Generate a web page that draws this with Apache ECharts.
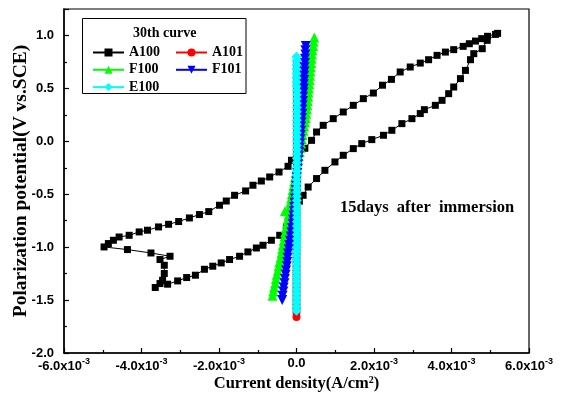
<!DOCTYPE html>
<html>
<head>
<meta charset="utf-8">
<script src="https://cdn.jsdelivr.net/npm/echarts@6/dist/echarts.min.js"></script>
<style>
  html, body { margin: 0; padding: 0; background: #fff; }
  #chart { width: 567px; height: 399px; }
</style>
</head>
<body>
<div id="chart"></div>
<script>
// Current density in units of 1e-3 A/cm^2, potential in V vs. SCE (30th cycle).

// A100: cyclic scan – forward (lower) branch, reverse (upper) branch, closing hook
const a100Current = [
  -3.645, -3.523, -3.326, -3.067, -2.834, -2.609, -2.376, -2.161, -1.943, -1.728,
  -1.469, -1.254, -1.036, -0.865, -0.648, -0.433, -0.259, -0.130, -0.018, 0.073,
  0.171, 0.301, 0.518, 0.733, 0.992, 1.207, 1.466, 1.684, 1.943, 2.244,
  2.461, 2.720, 2.979, 3.194, 3.300, 3.583, 3.756, 3.927, 4.057, 4.231,
  4.360, 4.490, 4.575, 4.793, 4.922, 5.137, 5.190,
  4.930, 4.780, 4.619, 4.460, 4.301, 4.057, 3.842, 3.627, 3.409, 3.194,
  2.935, 2.676, 2.450, 2.220, 1.984, 1.725, 1.466, 1.207, 0.948, 0.689,
  0.518, 0.389, 0.215, 0.034, -0.130, -0.218, -0.451, -0.692, -0.907, -1.124,
  -1.313, -1.598, -1.813, -1.987, -2.264, -2.505, -2.764, -3.041, -3.301, -3.560,
  -3.845, -4.060, -4.319, -4.578, -4.725, -4.855, -4.966,
  -4.363, -3.756, -3.264, -3.523, -3.412, -3.412, -3.456
];
const a100Potential = [
  -1.381, -1.344, -1.350, -1.319, -1.287, -1.265, -1.209, -1.180, -1.149, -1.117,
  -1.086, -1.045, -1.008, -0.982, -0.935, -0.888, -0.809, -0.715, -0.623, -0.567,
  -0.510, -0.432, -0.352, -0.274, -0.195, -0.132, -0.069, -0.022, 0.016, 0.057,
  0.104, 0.167, 0.214, 0.262, 0.299, 0.340, 0.387, 0.450, 0.513, 0.592,
  0.670, 0.771, 0.828, 0.875, 0.954, 1.010, 1.020,
  0.992, 0.970, 0.947, 0.922, 0.897, 0.866, 0.843, 0.812, 0.771, 0.739,
  0.702, 0.655, 0.585, 0.530, 0.456, 0.403, 0.340, 0.277, 0.214, 0.151,
  0.088, 0.009, -0.066, -0.132, -0.179, -0.236, -0.290, -0.337, -0.375, -0.415,
  -0.469, -0.510, -0.564, -0.604, -0.664, -0.692, -0.724, -0.758, -0.784, -0.809,
  -0.840, -0.856, -0.888, -0.904, -0.935, -0.966, -0.998,
  -1.023, -1.055, -1.086, -1.117, -1.171, -1.249, -1.313
];

// A101
const a101Potential = [
  -1.66, -1.62, -1.58, -1.54, -1.50, -1.46, -1.42, -1.38, -1.34, -1.30,
  -1.26, -1.22, -1.18, -1.14, -1.10, -1.06, -1.02, -0.98, -0.94, -0.90,
  -0.86, -0.82, -0.78, -0.74, -0.70, -0.66, -0.62, -0.58, -0.54, -0.50,
  -0.46, -0.42, -0.38, -0.34, -0.30, -0.26, -0.22, -0.18, -0.14, -0.10,
  -0.06, -0.02, 0.02, 0.06, 0.10, 0.14, 0.18, 0.22, 0.26, 0.30,
  0.34, 0.38, 0.42, 0.46, 0.50, 0.54, 0.58, 0.62, 0.66, 0.70, 0.74
];
const a101Current = [
  0.00, 0.00, 0.00, 0.00, 0.00, 0.00, 0.00, 0.00, 0.00, 0.00,
  0.00, 0.00, 0.00, 0.00, 0.00, 0.00, 0.00, 0.00, 0.00, 0.00,
  0.00, 0.00, 0.00, 0.00, 0.00, 0.00, 0.00, 0.01, 0.01, 0.01,
  0.01, 0.01, 0.01, 0.01, 0.01, 0.01, 0.01, 0.01, 0.01, 0.01,
  0.01, 0.01, 0.01, 0.01, 0.01, 0.01, 0.01, 0.01, 0.01, 0.01,
  0.01, 0.01, 0.01, 0.01, 0.01, 0.01, 0.01, 0.01, 0.01, 0.01, 0.01
];

// F100
const f100Potential = [
  -1.46, -1.42, -1.38, -1.34, -1.30, -1.26, -1.22, -1.18, -1.14, -1.10,
  -1.06, -1.02, -0.98, -0.94, -0.90, -0.86, -0.82, -0.78, -0.74, -0.70,
  -0.66, -0.62, -0.58, -0.54, -0.50, -0.46, -0.42, -0.38, -0.34, -0.30,
  -0.26, -0.22, -0.18, -0.14, -0.10, -0.06, -0.02, 0.02, 0.06, 0.10,
  0.14, 0.18, 0.22, 0.26, 0.30, 0.34, 0.38, 0.42, 0.46, 0.50,
  0.54, 0.58, 0.62, 0.66, 0.70, 0.74, 0.78, 0.82, 0.86, 0.90, 0.94, 0.98
];
const f100Current = [
  -0.62, -0.60, -0.58, -0.55, -0.53, -0.51, -0.48, -0.46, -0.44, -0.41,
  -0.39, -0.37, -0.35, -0.33, -0.31, -0.29, -0.27, -0.25, -0.23, -0.21,
  -0.30, -0.18, -0.16, -0.14, -0.12, -0.10, -0.08, -0.06, -0.04, -0.02,
  0.00, 0.02, 0.04, 0.06, 0.08, 0.10, 0.12, 0.14, 0.16, 0.18,
  0.20, 0.22, 0.24, 0.25, 0.27, 0.28, 0.29, 0.30, 0.31, 0.32,
  0.33, 0.34, 0.35, 0.36, 0.37, 0.38, 0.39, 0.40, 0.41, 0.43, 0.44, 0.46
];

// F101
const f101Potential = [
  -1.50, -1.46, -1.42, -1.38, -1.34, -1.30, -1.26, -1.22, -1.18, -1.14,
  -1.10, -1.06, -1.02, -0.98, -0.94, -0.90, -0.86, -0.82, -0.78, -0.74,
  -0.70, -0.66, -0.62, -0.58, -0.54, -0.50, -0.46, -0.42, -0.38, -0.34,
  -0.30, -0.26, -0.22, -0.18, -0.14, -0.10, -0.06, -0.02, 0.02, 0.06,
  0.10, 0.14, 0.18, 0.22, 0.26, 0.30, 0.34, 0.38, 0.42, 0.46,
  0.50, 0.54, 0.58, 0.62, 0.66, 0.70, 0.74, 0.78, 0.82, 0.86, 0.90
];
const f101Current = [
  -0.37, -0.36, -0.34, -0.33, -0.31, -0.30, -0.28, -0.27, -0.25, -0.24,
  -0.23, -0.22, -0.20, -0.19, -0.17, -0.15, -0.13, -0.12, -0.10, -0.09,
  -0.08, -0.07, -0.06, -0.05, -0.04, -0.03, -0.02, -0.01, 0.00, 0.01,
  0.02, 0.03, 0.04, 0.05, 0.06, 0.07, 0.08, 0.09, 0.10, 0.11,
  0.12, 0.12, 0.13, 0.14, 0.15, 0.15, 0.16, 0.17, 0.17, 0.18,
  0.19, 0.19, 0.20, 0.20, 0.21, 0.21, 0.22, 0.22, 0.23, 0.23, 0.24
];

// E100
const e100Potential = [
  -1.60, -1.56, -1.52, -1.48, -1.44, -1.40, -1.36, -1.32, -1.28, -1.24,
  -1.20, -1.16, -1.12, -1.08, -1.04, -1.00, -0.96, -0.92, -0.88, -0.84,
  -0.80, -0.76, -0.72, -0.68, -0.64, -0.60, -0.56, -0.52, -0.48, -0.44,
  -0.40, -0.36, -0.32, -0.28, -0.24, -0.20, -0.16, -0.12, -0.08, -0.04,
  0.00, 0.04, 0.08, 0.12, 0.16, 0.20, 0.24, 0.28, 0.32, 0.36,
  0.40, 0.44, 0.48, 0.52, 0.56, 0.60, 0.64, 0.68, 0.72, 0.76, 0.80
];
const e100Current = [
  0.00, 0.00, 0.00, 0.00, 0.00, 0.00, 0.00, 0.00, 0.00, 0.00,
  0.00, 0.00, 0.00, 0.00, 0.00, 0.01, 0.01, 0.01, 0.01, 0.01,
  0.01, 0.01, 0.01, 0.01, 0.01, 0.01, 0.01, 0.01, 0.01, 0.01,
  0.01, 0.01, 0.01, 0.01, 0.01, 0.01, 0.01, 0.01, 0.01, 0.01,
  0.01, 0.01, 0.01, 0.01, 0.01, 0.01, 0.01, 0.01, 0.01, 0.01,
  0.01, 0.01, 0.01, 0.00, 0.00, 0.00, 0.00, 0.00, 0.00, 0.00, 0.00
];

// Axis tick values
const xTickValues = [-6, -4, -2, 0, 2, 4, 6];
const yTickValues = [-2.0, -1.5, -1.0, -0.5, 0.0, 0.5, 1.0];

const legendTitle = '30th curve';
const noteText = '15days  after  immersion';

const SERIF = '"Liberation Serif", "Times New Roman", serif';
const SANS = '"Liberation Sans", Arial, sans-serif';

function pairs(xs, ys) {
  return xs.map((x, i) => [x, ys[i]]);
}

function makeSeries(name, xs, ys, color, symbol, size, extra) {
  return Object.assign({
    name: name,
    type: 'line',
    data: pairs(xs, ys),
    symbol: symbol,
    symbolSize: size,
    showAllSymbol: true,
    animation: false,
    lineStyle: { color: color, width: 1 },
    itemStyle: { color: color, borderWidth: 0 },
    emphasis: { disabled: true }
  }, extra || {});
}

const chart = echarts.init(document.getElementById('chart'), null, { renderer: 'canvas' });

const legendText = { fontFamily: SERIF, fontWeight: 'bold', fontSize: 14, lineHeight: 15, color: '#000' };

const option = {
  backgroundColor: '#ffffff',
  animation: false,
  grid: {
    left: 64, right: 38, top: 9, bottom: 46,
    show: true, borderColor: '#000', borderWidth: 1.2,
    containLabel: false,
    outerBoundsMode: 'none'
  },
  xAxis: {
    type: 'value',
    min: -6, max: 6, interval: 2,
    name: '{n|Current density(A/cm}{s|2}{n|)}',
    nameLocation: 'middle',
    nameGap: 22,
    nameMoveOverlap: false,
    nameTextStyle: {
      rich: {
        n: { fontFamily: SERIF, fontWeight: 'bold', fontSize: 16.5, color: '#000' },
        s: { fontFamily: SERIF, fontWeight: 'bold', fontSize: 10, color: '#000', verticalAlign: 'top', padding: [0, 0, 8, 0] }
      }
    },
    axisLine: { show: true, onZero: false, lineStyle: { color: '#000', width: 1.5 } },
    axisTick: { show: true, inside: true, length: 5, lineStyle: { color: '#000', width: 1.2 } },
    minorTick: { show: true, splitNumber: 2, length: 3, lineStyle: { color: '#000', width: 1.2 } },
    splitLine: { show: false },
    axisLabel: {
      margin: 4,
      formatter: function (v) {
        if (xTickValues.indexOf(v) < 0) return '';
        if (v === 0) return '{m|0.0}';
        return '{m|' + v.toFixed(1) + 'x10}{s|-3}';
      },
      rich: {
        m: { fontFamily: SANS, fontWeight: 'bold', fontSize: 13, color: '#000' },
        s: { fontFamily: SANS, fontWeight: 'bold', fontSize: 9, color: '#000', verticalAlign: 'top', padding: [0, 0, 9, 0] }
      }
    }
  },
  yAxis: {
    type: 'value',
    min: -2, max: 1.25, interval: 0.5,
    name: 'Polarization potential(V vs.SCE)',
    nameLocation: 'middle',
    nameGap: 33,
    nameRotate: 90,
    nameMoveOverlap: false,
    nameTextStyle: { fontFamily: SERIF, fontWeight: 'bold', fontSize: 19.5, color: '#000' },
    axisLine: { show: true, onZero: false, lineStyle: { color: '#000', width: 1.5 } },
    axisTick: { show: true, inside: true, length: 5, lineStyle: { color: '#000', width: 1.2 } },
    minorTick: { show: true, splitNumber: 2, length: 3, lineStyle: { color: '#000', width: 1.2 } },
    splitLine: { show: false },
    axisLabel: {
      margin: 10,
      fontFamily: SANS, fontWeight: 'bold', fontSize: 13, color: '#000',
      formatter: function (v) {
        return yTickValues.some(t => Math.abs(t - v) < 1e-9) ? v.toFixed(1) : '';
      }
    }
  },
  legend: [
    {
      data: ['A100', 'F100', 'E100'],
      orient: 'vertical',
      left: 92, top: 45, padding: 0,
      itemWidth: 31, itemHeight: 10, itemGap: 2.3,
      z: 10,
      selectedMode: false,
      textStyle: legendText
    },
    {
      data: ['A101', 'F101'],
      orient: 'vertical',
      left: 175, top: 45, padding: 0,
      itemWidth: 31, itemHeight: 10, itemGap: 2.3,
      z: 10,
      selectedMode: false,
      textStyle: legendText
    }
  ],
  graphic: [
    {
      type: 'rect', z: 8,
      shape: { x: 82.5, y: 18.5, width: 163.5, height: 75 },
      style: { fill: '#fff', stroke: '#000', lineWidth: 1 }
    },
    {
      type: 'text', z: 9, left: 133, top: 26,
      style: { text: legendTitle, font: 'bold 14px ' + SERIF, fill: '#000' }
    },
    {
      type: 'text', z: 9, left: 340, top: 199,
      style: { text: noteText, font: 'bold 16.5px ' + SERIF, fill: '#000' }
    }
  ],
  series: [
    makeSeries('A100', a100Current, a100Potential, '#000000', 'rect', 7),
    makeSeries('A101', a101Current, a101Potential, '#ff0000', 'circle', 8),
    makeSeries('F100', f100Current, f100Potential, '#00ff00', 'triangle', 10),
    makeSeries('F101', f101Current, f101Potential, '#0000ff', 'triangle', 10, { symbolRotate: 180 }),
    makeSeries('E100', e100Current, e100Potential, '#00ffff', 'diamond', 10)
  ]
};

chart.setOption(option);
</script>
</body>
</html>
